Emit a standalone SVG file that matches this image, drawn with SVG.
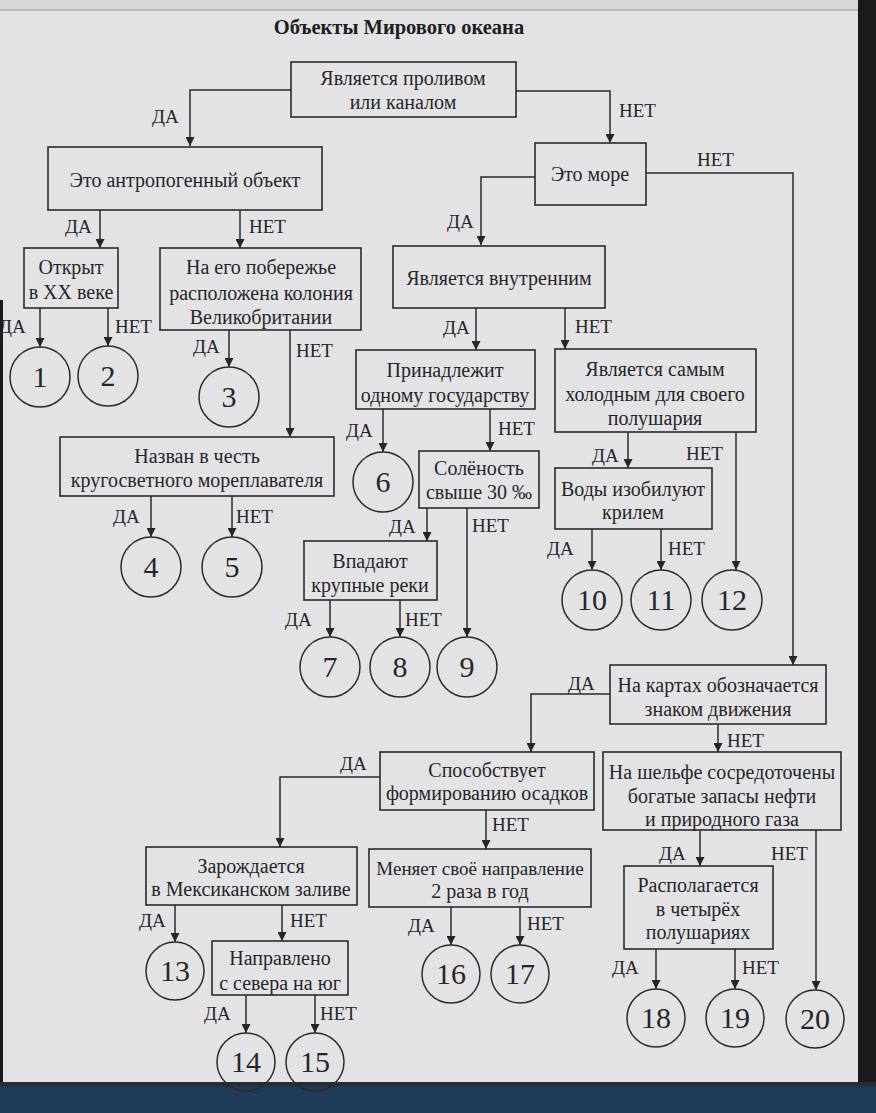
<svg xmlns="http://www.w3.org/2000/svg" width="876" height="1113" viewBox="0 0 876 1113">
<defs>
<marker id="ah" viewBox="0 0 10 10" refX="10" refY="5" markerWidth="9" markerHeight="9" markerUnits="userSpaceOnUse" orient="auto">
<path d="M0,0 L10,5 L0,10 Z" fill="#262628"/>
</marker>
<style>
.bx{fill:none;stroke:#2a2a2c;stroke-width:1.6}
.ci{fill:none;stroke:#2a2a2c;stroke-width:1.5}
.ln{fill:none;stroke:#2a2a2c;stroke-width:1.5;marker-end:url(#ah)}
.t{font-size:20px;fill:#262628;text-anchor:middle}
.lb{font-size:19px;fill:#262628}
.n{font-size:30px;fill:#262628;text-anchor:middle}
.ti{font-size:20.5px;font-weight:bold;fill:#1e1e20;text-anchor:middle}
</style>
</defs>
<rect x="0" y="0" width="876" height="1113" fill="#e3e3e5"/>
<rect x="0" y="0" width="876" height="10" fill="#d8d8da"/>
<line x1="0" y1="10" x2="858" y2="10" stroke="#9a9a9c" stroke-width="1"/>
<rect x="858" y="0" width="18" height="1113" fill="#1a1a1c"/>
<rect x="0" y="300" width="3" height="790" fill="#1a1a1c"/>
<rect x="0" y="1086" width="876" height="27" fill="#1f3b58"/>
<rect x="0" y="1082" width="876" height="4" fill="#2c2c30"/>
<g font-family="'Liberation Serif', 'Noto Serif', 'DejaVu Serif', Tinos, FreeSerif, 'Times New Roman', Times, serif">
<text class="ti" x="399" y="34">Объекты Мирового океана</text>

<g id="connectors">
<path class="ln" d="M291,90 H190 V146"/>
<path class="ln" d="M516,91 H610 V143"/>
<path class="ln" d="M646,173 H793 V665"/>
<path class="ln" d="M535,177 H481 V245"/>
<path class="ln" d="M100,210 V248"/>
<path class="ln" d="M240,210 V248"/>
<path class="ln" d="M40,308 V347"/>
<path class="ln" d="M108,308 V346"/>
<path class="ln" d="M229,330 V367"/>
<path class="ln" d="M290,330 V437"/>
<path class="ln" d="M151,496 V537"/>
<path class="ln" d="M232,496 V537"/>
<path class="ln" d="M476,308 V350"/>
<path class="ln" d="M565,308 V349"/>
<path class="ln" d="M383,409 V452"/>
<path class="ln" d="M490,409 V451"/>
<path class="ln" d="M427,508 V541"/>
<path class="ln" d="M467,508 V637"/>
<path class="ln" d="M330,600 V637"/>
<path class="ln" d="M400,600 V637"/>
<path class="ln" d="M628,432 V468"/>
<path class="ln" d="M736,432 V570"/>
<path class="ln" d="M592,529 V570"/>
<path class="ln" d="M661,529 V570"/>
<path class="ln" d="M610,694 H531 V752"/>
<path class="ln" d="M718,724 V752"/>
<path class="ln" d="M380,777 H280 V847"/>
<path class="ln" d="M486,810 V849"/>
<path class="ln" d="M175,905 V942"/>
<path class="ln" d="M282,905 V941"/>
<path class="ln" d="M246,995 V1033"/>
<path class="ln" d="M315,995 V1033"/>
<path class="ln" d="M451,907 V945"/>
<path class="ln" d="M520,907 V945"/>
<path class="ln" d="M700,830 V866"/>
<path class="ln" d="M816,830 V990"/>
<path class="ln" d="M656,949 V989"/>
<path class="ln" d="M735,949 V989"/>
</g>

<g id="labels">
<text class="lb" x="152" y="123">ДА</text>
<text class="lb" x="619" y="117">НЕТ</text>
<text class="lb" x="697" y="166">НЕТ</text>
<text class="lb" x="447" y="228">ДА</text>
<text class="lb" x="65" y="233">ДА</text>
<text class="lb" x="249" y="233">НЕТ</text>
<text class="lb" x="-1" y="333">ДА</text>
<text class="lb" x="115" y="333">НЕТ</text>
<text class="lb" x="193" y="353">ДА</text>
<text class="lb" x="296" y="357">НЕТ</text>
<text class="lb" x="113" y="523">ДА</text>
<text class="lb" x="236" y="523">НЕТ</text>
<text class="lb" x="443" y="334">ДА</text>
<text class="lb" x="575" y="333">НЕТ</text>
<text class="lb" x="346" y="437">ДА</text>
<text class="lb" x="498" y="435">НЕТ</text>
<text class="lb" x="389" y="533">ДА</text>
<text class="lb" x="472" y="532">НЕТ</text>
<text class="lb" x="285" y="626">ДА</text>
<text class="lb" x="405" y="626">НЕТ</text>
<text class="lb" x="592" y="462">ДА</text>
<text class="lb" x="686" y="460">НЕТ</text>
<text class="lb" x="547" y="555">ДА</text>
<text class="lb" x="668" y="555">НЕТ</text>
<text class="lb" x="568" y="690">ДА</text>
<text class="lb" x="727" y="747">НЕТ</text>
<text class="lb" x="340" y="770">ДА</text>
<text class="lb" x="492" y="831">НЕТ</text>
<text class="lb" x="139" y="927">ДА</text>
<text class="lb" x="290" y="927">НЕТ</text>
<text class="lb" x="204" y="1020">ДА</text>
<text class="lb" x="320" y="1020">НЕТ</text>
<text class="lb" x="408" y="932">ДА</text>
<text class="lb" x="527" y="930">НЕТ</text>
<text class="lb" x="659" y="860">ДА</text>
<text class="lb" x="771" y="860">НЕТ</text>
<text class="lb" x="612" y="974">ДА</text>
<text class="lb" x="742" y="974">НЕТ</text>
</g>

<g id="nA"><rect class="bx" x="291" y="62" width="225" height="55"/><text class="t" x="403" y="85">Является проливом</text><text class="t" x="403" y="109">или каналом</text></g>
<g id="nB"><rect class="bx" x="48" y="147" width="274" height="63"/><text class="t" x="185" y="187">Это антропогенный объект</text></g>
<g id="nC"><rect class="bx" x="535" y="143" width="111" height="62"/><text class="t" x="590" y="181">Это море</text></g>
<g id="nE"><rect class="bx" x="24" y="248" width="94" height="60"/><text class="t" x="71" y="274">Открыт</text><text class="t" x="71" y="299">в XX веке</text></g>
<g id="nF"><rect class="bx" x="160" y="248" width="201" height="82"/><text class="t" x="261" y="274">На его побережье</text><text class="t" x="261" y="300">расположена колония</text><text class="t" x="261" y="324">Великобритании</text></g>
<g id="nD"><rect class="bx" x="393" y="246" width="212" height="62"/><text class="t" x="499" y="285">Является внутренним</text></g>
<g id="nG"><rect class="bx" x="60" y="437" width="274" height="59"/><text class="t" x="197" y="463">Назван в честь</text><text class="t" x="197" y="487">кругосветного мореплавателя</text></g>
<g id="nH"><rect class="bx" x="356" y="350" width="179" height="59"/><text class="t" x="445" y="377">Принадлежит</text><text class="t" x="445" y="402">одному государству</text></g>
<g id="nI"><rect class="bx" x="555" y="349" width="201" height="83"/><text class="t" x="655" y="376">Является самым</text><text class="t" x="655" y="401">холодным для своего</text><text class="t" x="655" y="425">полушария</text></g>
<g id="nJ"><rect class="bx" x="419" y="451" width="120" height="57"/><text class="t" x="479" y="475">Солёность</text><text class="t" x="479" y="499">свыше 30 ‰</text></g>
<g id="nK"><rect class="bx" x="304" y="541" width="133" height="59"/><text class="t" x="370" y="568">Впадают</text><text class="t" x="370" y="592">крупные реки</text></g>
<g id="nL"><rect class="bx" x="555" y="468" width="157" height="61"/><text class="t" x="633" y="496">Воды изобилуют</text><text class="t" x="633" y="519">крилем</text></g>
<g id="nM"><rect class="bx" x="610" y="665" width="216" height="59"/><text class="t" x="718" y="692">На картах обозначается</text><text class="t" x="718" y="716">знаком движения</text></g>
<g id="nN"><rect class="bx" x="380" y="752" width="214" height="58"/><text class="t" x="487" y="777">Способствует</text><text class="t" x="487" y="800">формированию осадков</text></g>
<g id="nO"><rect class="bx" x="603" y="752" width="238" height="78"/><text class="t" x="722" y="779">На шельфе сосредоточены</text><text class="t" x="722" y="803">богатые запасы нефти</text><text class="t" x="722" y="826">и природного газа</text></g>
<g id="nP"><rect class="bx" x="146" y="847" width="211" height="58"/><text class="t" x="251" y="873">Зарождается</text><text class="t" x="251" y="896">в Мексиканском заливе</text></g>
<g id="nQ"><rect class="bx" x="369" y="849" width="222" height="58"/><text class="t" x="480" y="875" style="font-size:19px">Меняет своё направление</text><text class="t" x="480" y="898">2 раза в год</text></g>
<g id="nR"><rect class="bx" x="212" y="941" width="136" height="54"/><text class="t" x="280" y="965">Направлено</text><text class="t" x="280" y="990">с севера на юг</text></g>
<g id="nS"><rect class="bx" x="624" y="866" width="149" height="83"/><text class="t" x="698" y="892">Располагается</text><text class="t" x="698" y="916">в четырёх</text><text class="t" x="698" y="939">полушариях</text></g>

<g id="c1"><circle class="ci" cx="40" cy="377" r="30"/><text class="n" x="40" y="387">1</text></g>
<g id="c2"><circle class="ci" cx="108" cy="376" r="30"/><text class="n" x="108" y="386">2</text></g>
<g id="c3"><circle class="ci" cx="229" cy="397" r="30"/><text class="n" x="229" y="407">3</text></g>
<g id="c4"><circle class="ci" cx="151" cy="567" r="30"/><text class="n" x="151" y="577">4</text></g>
<g id="c5"><circle class="ci" cx="232" cy="567" r="30"/><text class="n" x="232" y="577">5</text></g>
<g id="c6"><circle class="ci" cx="383" cy="482" r="30"/><text class="n" x="383" y="492">6</text></g>
<g id="c7"><circle class="ci" cx="330" cy="667" r="30"/><text class="n" x="330" y="677">7</text></g>
<g id="c8"><circle class="ci" cx="400" cy="667" r="30"/><text class="n" x="400" y="677">8</text></g>
<g id="c9"><circle class="ci" cx="467" cy="667" r="30"/><text class="n" x="467" y="677">9</text></g>
<g id="c10"><circle class="ci" cx="592" cy="600" r="30"/><text class="n" x="592" y="610">10</text></g>
<g id="c11"><circle class="ci" cx="661" cy="600" r="30"/><text class="n" x="661" y="610">11</text></g>
<g id="c12"><circle class="ci" cx="732" cy="600" r="30"/><text class="n" x="732" y="610">12</text></g>
<g id="c13"><circle class="ci" cx="175" cy="971" r="29"/><text class="n" x="175" y="981">13</text></g>
<g id="c14"><circle class="ci" cx="246" cy="1062" r="29"/><text class="n" x="246" y="1072">14</text></g>
<g id="c15"><circle class="ci" cx="315" cy="1062" r="29"/><text class="n" x="315" y="1072">15</text></g>
<g id="c16"><circle class="ci" cx="451" cy="974" r="29"/><text class="n" x="451" y="984">16</text></g>
<g id="c17"><circle class="ci" cx="520" cy="974" r="29"/><text class="n" x="520" y="984">17</text></g>
<g id="c18"><circle class="ci" cx="656" cy="1018" r="29"/><text class="n" x="656" y="1028">18</text></g>
<g id="c19"><circle class="ci" cx="735" cy="1018" r="29"/><text class="n" x="735" y="1028">19</text></g>
<g id="c20"><circle class="ci" cx="815" cy="1019" r="29"/><text class="n" x="815" y="1029">20</text></g>
</g>
</svg>
